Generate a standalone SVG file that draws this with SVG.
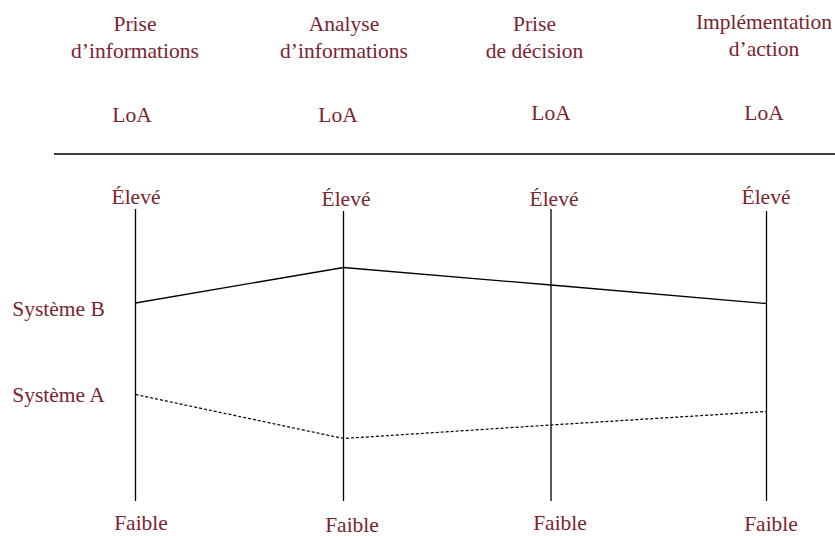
<svg xmlns="http://www.w3.org/2000/svg" width="835" height="536" viewBox="0 0 835 536">
<style>
text{font-family:"Liberation Serif","Times New Roman",serif;font-size:21.5px;fill:#7a2430;text-anchor:middle}
.ax{stroke:#000;stroke-width:1.3;fill:none}
.sb{stroke:#000;stroke-width:1.3;fill:none}
.sa{stroke:#000;stroke-width:1.2;fill:none;stroke-dasharray:3 2}
</style>
<rect width="835" height="536" fill="#fff"/>
<g id="headers">
<text x="135" y="30.5">Prise</text>
<text x="135" y="57.5">d’informations</text>
<text x="344" y="30.5">Analyse</text>
<text x="344" y="57.5">d’informations</text>
<text x="534.5" y="30.5">Prise</text>
<text x="534.5" y="57.5">de décision</text>
<text x="764" y="28.5">Implémentation</text>
<text x="764" y="55.5">d’action</text>
<text x="132" y="122">LoA</text>
<text x="338" y="122">LoA</text>
<text x="551" y="120">LoA</text>
<text x="764" y="120">LoA</text>
</g>
<line x1="54" y1="154" x2="835" y2="154" stroke="#000" stroke-width="1.6"/>
<g id="axis1">
<text x="136" y="203.5">Élevé</text>
<line class="ax" x1="135.5" y1="209" x2="135.5" y2="501"/>
<text x="141" y="530">Faible</text>
</g>
<g id="axis2">
<text x="346" y="205.5">Élevé</text>
<line class="ax" x1="343.5" y1="211" x2="343.5" y2="501"/>
<text x="352" y="531.5">Faible</text>
</g>
<g id="axis3">
<text x="554" y="206">Élevé</text>
<line class="ax" x1="551" y1="209" x2="551" y2="501"/>
<text x="560" y="529.5">Faible</text>
</g>
<g id="axis4">
<text x="766" y="203.5">Élevé</text>
<line class="ax" x1="766.5" y1="211" x2="766.5" y2="501"/>
<text x="771" y="531">Faible</text>
</g>
<g id="labels">
<text x="58.5" y="315.5">Système B</text>
<text x="58.5" y="402">Système A</text>
</g>
<g id="connectors">
<polyline class="sb" points="135.5,303 343.5,267.5 551,285 766.5,303.5"/>
<polyline class="sa" points="135.5,394.5 343.5,438.5 551,425 766.5,411.5"/>
</g>
</svg>
